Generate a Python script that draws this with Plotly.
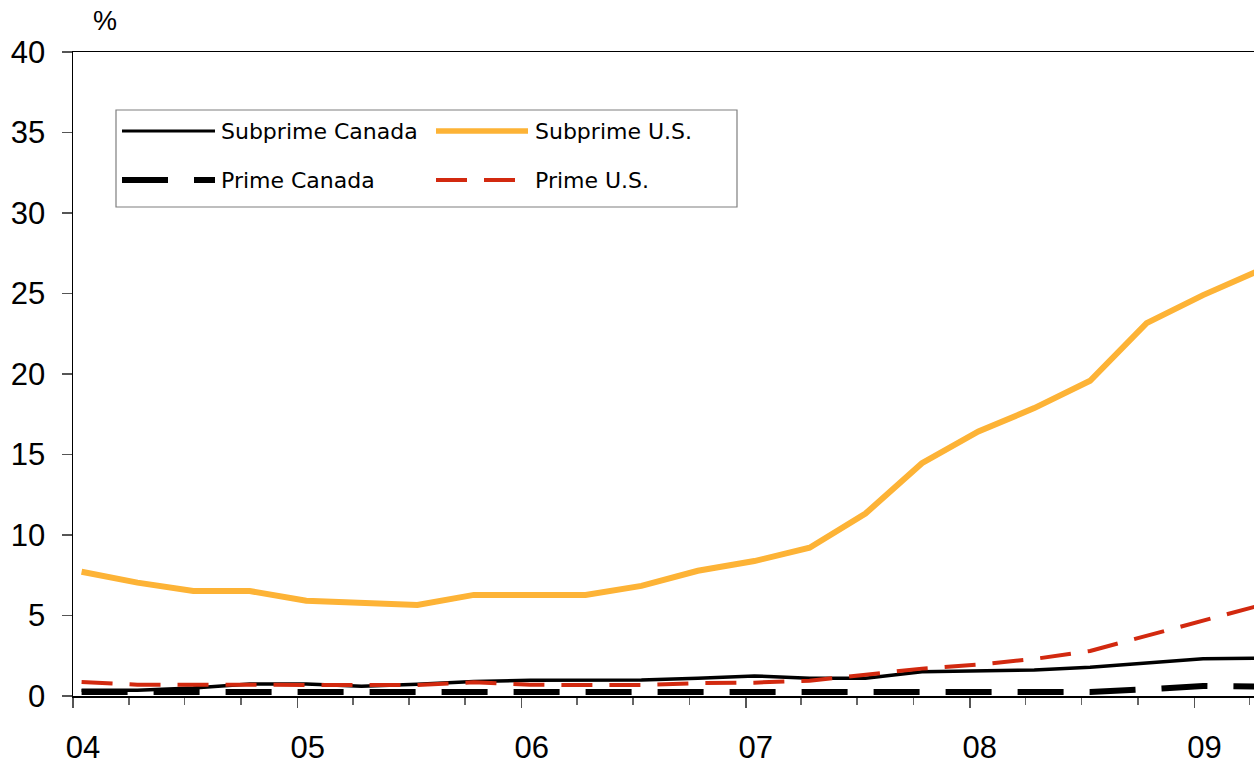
import plotly.graph_objects as go

# ---------------- data ----------------
dates = ["2004-01-15", "2004-04-15", "2004-07-15", "2004-10-15",
         "2005-01-15", "2005-04-15", "2005-07-15", "2005-10-15",
         "2006-01-15", "2006-04-15", "2006-07-15", "2006-10-15",
         "2007-01-15", "2007-04-15", "2007-07-15", "2007-10-15",
         "2008-01-15", "2008-04-15", "2008-07-15", "2008-10-15",
         "2009-01-15", "2009-04-15"]

subprime_canada = [0.35, 0.35, 0.50, 0.75, 0.75, 0.60, 0.73, 0.90, 0.98, 1.00, 1.00, 1.10,
                   1.25, 1.10, 1.10, 1.50, 1.58, 1.62, 1.78, 2.05, 2.32, 2.34]
subprime_us = [7.72, 7.04, 6.52, 6.52, 5.92, 5.78, 5.65, 6.28, 6.28, 6.28, 6.84, 7.78,
               8.38, 9.21, 11.33, 14.46, 16.43, 17.88, 19.58, 23.16, 24.90, 26.40]
prime_canada = [0.25, 0.25, 0.25, 0.25, 0.25, 0.25, 0.25, 0.25, 0.25, 0.25, 0.25, 0.25,
                0.25, 0.25, 0.25, 0.25, 0.25, 0.25, 0.25, 0.42, 0.62, 0.58]
prime_us = [0.87, 0.70, 0.70, 0.70, 0.70, 0.68, 0.68, 0.85, 0.70, 0.68, 0.68, 0.80,
            0.83, 0.95, 1.30, 1.70, 1.95, 2.30, 2.80, 3.72, 4.67, 5.60]

series_names = ["Subprime Canada", "Subprime U.S.", "Prime Canada", "Prime U.S."]

# ---------------- styles ----------------
ORANGE = "#FDB336"
RED = "#D2290F"
styles = {
    "Subprime Canada": dict(color="black", width=3.5, dash="solid"),
    "Subprime U.S.": dict(color=ORANGE, width=6, dash="solid"),
    "Prime Canada": dict(color="black", width=6, dash="46px,26px"),
    "Prime U.S.": dict(color=RED, width=4, dash="31px,17px"),
}
values = {
    "Subprime Canada": subprime_canada,
    "Subprime U.S.": subprime_us,
    "Prime Canada": prime_canada,
    "Prime U.S.": prime_us,
}

W, H = 1254, 765
ML, MR, MT, MB = 73, 0, 52, 69
PW, PH = W - ML - MR, H - MT - MB


def px_x(p):
    return (p - ML) / PW


def px_y(p):
    return (H - MB - p) / PH


fig = go.Figure()
for name in ["Subprime Canada", "Prime Canada", "Subprime U.S.", "Prime U.S."]:
    fig.add_trace(go.Scatter(x=dates, y=values[name], mode="lines", name=name,
                             line=styles[name], showlegend=False, hoverinfo="skip"))

TICKFONT = dict(family="Liberation Sans", size=31, color="black")

fig.update_layout(
    width=W, height=H,
    margin=dict(l=ML, r=MR, t=MT, b=MB, pad=0, autoexpand=False),
    paper_bgcolor="white", plot_bgcolor="white",
    showlegend=False,
    xaxis=dict(
        type="date", range=["2004-01-01", "2009-04-08"],
        tick0="2004-01-01", dtick="M12", tickformat="%y",
        ticks="outside", ticklen=10, tickwidth=1.5, tickcolor="#555555",
        minor=dict(tick0="2004-01-01", dtick="M3", ticks="outside", ticklen=7,
                   tickwidth=1.5, tickcolor="#666666", showgrid=False),
        showline=True, linecolor="black", linewidth=1.5, mirror=True,
        showgrid=False, zeroline=False, automargin=False,
        tickfont=TICKFONT, ticklabelshift=10, ticklabelstandoff=13,
    ),
    yaxis=dict(
        range=[0, 40], dtick=5, tick0=0,
        ticks="outside", ticklen=10, tickwidth=1.5, tickcolor="#555555",
        showline=True, linecolor="black", linewidth=1.5,
        showgrid=False, zeroline=False, automargin=False,
        tickfont=TICKFONT, ticklabelstandoff=10,
    ),
)

# "%" unit label
fig.add_annotation(x=px_x(105), y=px_y(21), xref="paper", yref="paper", text="%",
                   showarrow=False, font=dict(family="Liberation Sans", size=27, color="black"),
                   xanchor="center", yanchor="middle")

# ---------------- legend (boxed, 2 x 2) ----------------
fig.add_shape(type="rect", xref="paper", yref="paper",
              x0=px_x(116), x1=px_x(737), y0=px_y(110), y1=px_y(207),
              line=dict(color="#7f7f7f", width=1.2), fillcolor="white", layer="above")

legend_layout = {
    "Subprime Canada": (122, 215, 131, 220),
    "Subprime U.S.": (436, 528, 131, 534),
    "Prime Canada": (122, 215, 180, 220),
    "Prime U.S.": (436, 515, 180, 534),
}
LEGFONT = dict(family="DejaVu Sans", size=22, color="black")
for name in series_names:
    x0, x1, yy, tx = legend_layout[name]
    st = dict(styles[name])
    if name == "Subprime Canada":
        st["width"] = 3
    if name == "Subprime U.S.":
        st["width"] = 5.5
    fig.add_shape(type="line", xref="paper", yref="paper",
                  x0=px_x(x0), x1=px_x(x1), y0=px_y(yy), y1=px_y(yy),
                  line=st, layer="above")
    fig.add_annotation(x=px_x(tx), y=px_y(yy),
                       xref="paper", yref="paper", text=name, showarrow=False,
                       font=LEGFONT, xanchor="left", yanchor="middle", borderpad=0)

fig.write_html("out.html",
               config={"displayModeBar": False, "staticPlot": True},
               post_script="document.body.style.margin='0';document.body.style.overflow='hidden';")
